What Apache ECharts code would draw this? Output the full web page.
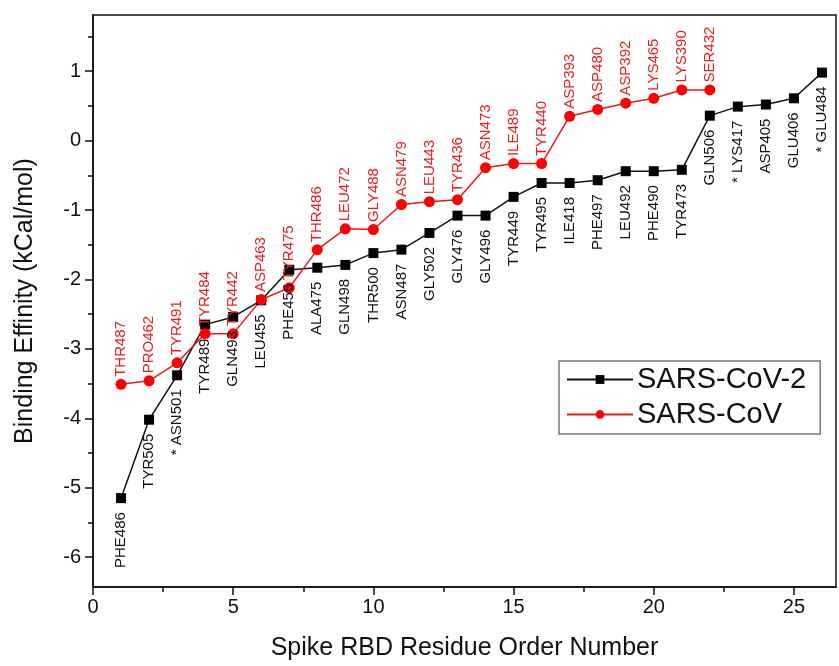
<!DOCTYPE html>
<html>
<head>
<meta charset="utf-8">
<script src="https://cdn.jsdelivr.net/npm/echarts@6/dist/echarts.min.js"></script>
<style>
  html, body { margin: 0; padding: 0; background: #fff }
  #chart { width: 839px; height: 666px }
</style>
</head>
<body>
<div id="chart"></div>
<script>
const cov2Residues = ['PHE486', 'TYR505', '* ASN501', 'TYR489', 'GLN493', 'LEU455', 'PHE456', 'ALA475', 'GLN498',
  'THR500', 'ASN487', 'GLY502', 'GLY476', 'GLY496', 'TYR449', 'TYR495', 'ILE418', 'PHE497', 'LEU492', 'PHE490',
  'TYR473', 'GLN506', '* LYS417', 'ASP405', 'GLU406', '* GLU484']
const cov2Values = [-5.15, -4.02, -3.38, -2.65, -2.54, -2.30, -1.86, -1.83, -1.79, -1.62, -1.57, -1.33, -1.08,
  -1.08, -0.81, -0.61, -0.61, -0.57, -0.44, -0.44, -0.42, 0.36, 0.49, 0.52, 0.61, 0.98]

const covResidues = ['THR487', 'PRO462', 'TYR491', 'TYR484', 'TYR442', 'ASP463', 'TYR475', 'THR486', 'LEU472',
  'GLY488', 'ASN479', 'LEU443', 'TYR436', 'ASN473', 'ILE489', 'TYR440', 'ASP393', 'ASP480', 'ASP392', 'LYS465',
  'LYS390', 'SER432']
const covValues = [-3.51, -3.46, -3.20, -2.78, -2.78, -2.29, -2.12, -1.57, -1.27, -1.28, -0.92, -0.88, -0.85,
  -0.39, -0.33, -0.33, 0.35, 0.45, 0.54, 0.61, 0.73, 0.73]

const xMajor = [0, 5, 10, 15, 20, 25]
const xMinor = [2.5, 7.5, 12.5, 17.5, 22.5]
const yMajor = [-6, -5, -4, -3, -2, -1, 0, 1]
const yMinor = [-5.5, -4.5, -3.5, -2.5, -1.5, -0.5, 0.5, 1.5]

const FONT = 'Liberation Sans, Arial, sans-serif'
const toPoints = (vals) => vals.map((v, i) => [i + 1, v])

const chart = echarts.init(document.getElementById('chart'), null, { renderer: 'canvas' })

const axisBase = { type: 'value', gridIndex: 0, splitLine: { show: false } }
const tickStyle = { color: '#111', width: 1.5 }

chart.setOption({
  animation: false,
  backgroundColor: '#fff',
  textStyle: { fontFamily: FONT },
  grid: { left: 93, right: 3, top: 15, bottom: 79, show: true, borderColor: '#111', borderWidth: 1.5 },
  legend: {
    orient: 'vertical',
    left: 559, top: 361,
    padding: [4, 14, 5, 7],
    itemGap: 6,
    itemWidth: 66, itemHeight: 11,
    borderColor: '#777', borderWidth: 1.5,
    textStyle: { fontSize: 29, color: '#111', fontFamily: FONT, padding: [0, 0, 0, -1] },
    data: ['SARS-CoV-2', 'SARS-CoV']
  },
  xAxis: [{
    ...axisBase, min: 0, max: 26.5,
    name: 'Spike RBD Residue Order Number', nameLocation: 'middle', nameGap: 49,
    nameTextStyle: { fontSize: 25, color: '#111', fontFamily: FONT },
    axisLine: { onZero: false, lineStyle: tickStyle },
    axisTick: { customValues: xMajor, length: 8, lineStyle: tickStyle },
    axisLabel: { customValues: xMajor, fontSize: 20, color: '#111', margin: 10 }
  }, {
    ...axisBase, min: 0, max: 26.5, position: 'bottom',
    axisLine: { show: false, onZero: false }, axisLabel: { show: false },
    axisTick: { customValues: xMinor, length: 5, lineStyle: tickStyle }
  }],
  yAxis: [{
    ...axisBase, min: -6.43, max: 1.81,
    name: 'Binding Effinity (kCal/mol)', nameLocation: 'middle', nameGap: 55,
    nameTextStyle: { fontSize: 25, color: '#111', fontFamily: FONT },
    axisLine: { onZero: false, lineStyle: tickStyle },
    axisTick: { customValues: yMajor, length: 8, lineStyle: tickStyle },
    axisLabel: { customValues: yMajor, fontSize: 20, color: '#111', margin: 12 }
  }, {
    ...axisBase, min: -6.43, max: 1.81, position: 'left',
    axisLine: { show: false, onZero: false }, axisLabel: { show: false },
    axisTick: { customValues: yMinor, length: 5, lineStyle: tickStyle }
  }],
  series: [{
    name: 'SARS-CoV-2',
    type: 'line',
    data: toPoints(cov2Values),
    symbol: 'rect', symbolSize: 10,
    itemStyle: { color: '#000' },
    lineStyle: { color: '#111', width: 1.5 },
    label: {
      show: true, position: 'bottom', distance: 9, rotate: 90,
      align: 'right', verticalAlign: 'middle',
      fontSize: 15, color: '#111', fontFamily: FONT,
      formatter: (p) => cov2Residues[p.dataIndex]
    }
  }, {
    name: 'SARS-CoV',
    type: 'line',
    data: toPoints(covValues),
    symbol: 'circle', symbolSize: 11,
    itemStyle: { color: '#ff0000' },
    lineStyle: { color: '#e8191c', width: 1.5 },
    label: {
      show: true, position: 'top', distance: 2, rotate: 90,
      align: 'left', verticalAlign: 'middle',
      fontSize: 15, color: '#ee1c1c', fontFamily: FONT,
      formatter: (p) => covResidues[p.dataIndex]
    }
  }]
})
</script>
</body>
</html>
